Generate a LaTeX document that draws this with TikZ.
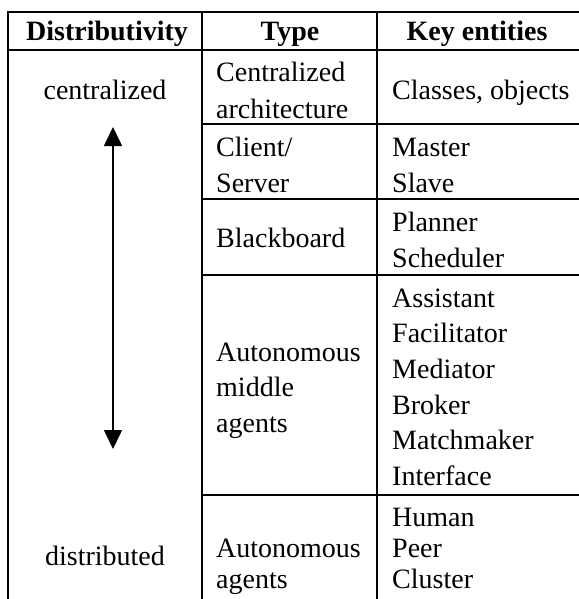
\documentclass[tikz,border=0pt]{standalone}
\usepackage{fontspec}
\setmainfont{Liberation Serif}
\usetikzlibrary{arrows.meta}

\tikzset{
  cell/.style={inner sep=0pt, font=\fontsize{28}{34}\selectfont},
  head/.style={inner sep=0pt, font=\fontsize{28}{34}\selectfont\bfseries},
  rule/.style={line width=2.4pt},
  span/.style={line width=1.6pt,
               {Triangle[length=19pt, width=18pt]}-{Triangle[length=19pt, width=18pt]}}
}

\begin{document}
\begin{tikzpicture}[x=1pt, y=-1pt]
  \useasboundingbox (0,0) rectangle (578,599);
  % table rules
  \draw[rule] (590,12) -- (8,12) -- (8,610);
  \draw[rule] (8,50) -- (590,50);
  \foreach \x in {202, 377}
    \draw[rule] (\x,12) -- (\x,610);
  \foreach \y in {124, 199, 275, 495}
    \draw[rule] (202,\y) -- (590,\y);
  % header row
  \node[head, anchor=base] (hdist) at (107,41) {Distributivity};
  \node[head, anchor=base] (htype) at (290,41) {Type};
  \node[head, anchor=base] (hkey)  at (477,41) {Key entities};
  % distributivity column
  \node[cell, anchor=base] (cen)  at (105,100) {centralized};
  \node[cell, anchor=base] (dist) at (105,565) {distributed};
  \coordinate (uptip)   at (113,127);
  \coordinate (downtip) at (113,449);
  \draw[span] (uptip) -- (downtip);
  % type column
  \node[cell, anchor=base west] (cena) at (216,82)  {Centralized};
  \node[cell, anchor=base west] (cenb) at (216,118) {architecture};
  \node[cell, anchor=base west] (clia) at (216,156) {Client/};
  \node[cell, anchor=base west] (clib) at (216,192) {Server};
  \node[cell, anchor=base west] (blk)  at (216,247) {Blackboard};
  \foreach \txt [count=\i] in {Autonomous, middle, agents}
    \node[cell, anchor=base west] (ama\i) at (216,{361+35.7*(\i-1)}) {\txt};
  \foreach \txt [count=\i] in {Autonomous, agents}
    \node[cell, anchor=base west] (aut\i) at (216,{557+31*(\i-1)}) {\txt};
  % key entities column
  \node[cell, anchor=base west] (obj) at (392,100) {Classes, objects};
  \node[cell, anchor=base west] (mst) at (392,156) {Master};
  \node[cell, anchor=base west] (slv) at (392,192) {Slave};
  \node[cell, anchor=base west] (pln) at (392,231) {Planner};
  \node[cell, anchor=base west] (sch) at (392,267) {Scheduler};
  \foreach \txt [count=\i] in {Assistant, Facilitator, Mediator, Broker, Matchmaker, Interface}
    \node[cell, anchor=base west] (mid\i) at (392,{307+35.7*(\i-1)}) {\txt};
  \foreach \txt [count=\i] in {Human, Peer, Cluster}
    \node[cell, anchor=base west] (agt\i) at (392,{526+31*(\i-1)}) {\txt};
\end{tikzpicture}
\end{document}
